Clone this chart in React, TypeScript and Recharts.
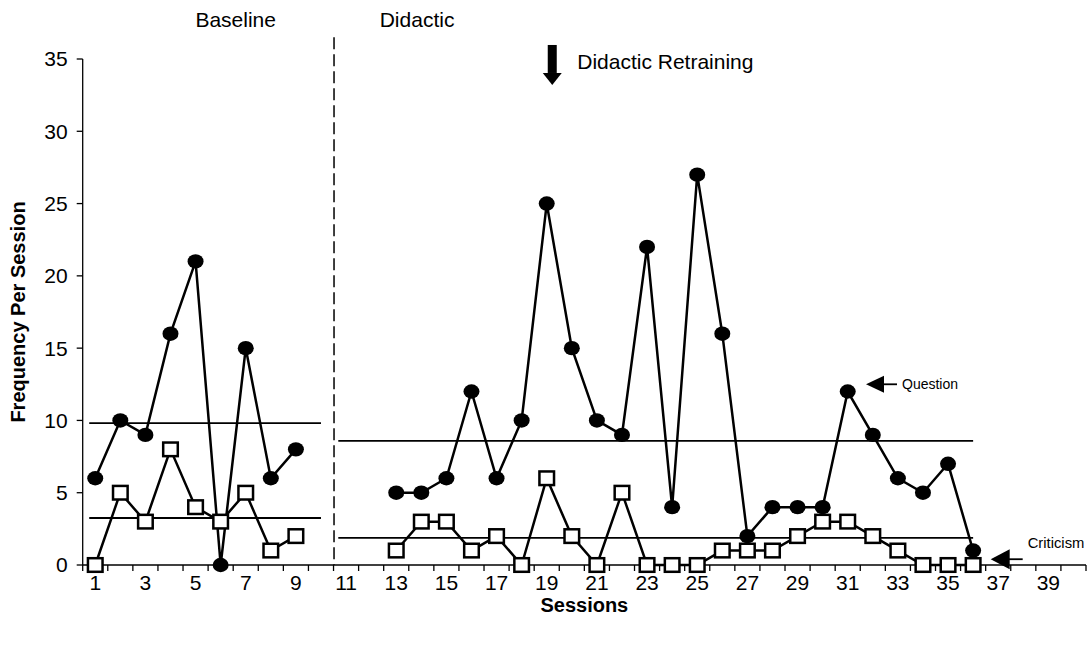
import React from 'react';
import { LineChart, Line, XAxis, YAxis, ReferenceLine, ReferenceDot } from 'recharts';

const sessions = [1, 2, 3, 4, 5, 6, 7, 8, 9, 10, 11, 12, 13, 14, 15, 16, 17, 18, 19, 20, 21, 22, 23, 24, 25, 26, 27, 28, 29, 30, 31, 32, 33, 34, 35, 36];
const questionValues = [6, 10, 9, 16, 21, 0, 15, 6, 8, null, null, null, 5, 5, 6, 12, 6, 10, 25, 15, 10, 9, 22, 4, 27, 16, 2, 4, 4, 4, 12, 9, 6, 5, 7, 1];
const criticismValues = [0, 5, 3, 8, 4, 3, 5, 1, 2, null, null, null, 1, 3, 3, 1, 2, 0, 6, 2, 0, 5, 0, 0, 0, 1, 1, 1, 2, 3, 3, 2, 1, 0, 0, 0];
const xTickLabels = [1, 3, 5, 7, 9, 11, 13, 15, 17, 19, 21, 23, 25, 27, 29, 31, 33, 35, 37, 39];
const yTicks = [0, 5, 10, 15, 20, 25, 30, 35];
const categoryCount = 40;

const meanLines = [
  { from: 0.76, to: 10.0, value: 9.82 },
  { from: 0.76, to: 10.0, value: 3.25 },
  { from: 10.69, to: 36.0, value: 8.58 },
  { from: 10.69, to: 36.0, value: 1.87 },
];
const phaseChangeSession = 10.52;
const phaseLabels = [
  { text: 'Baseline', session: 6.6, level: 37.7 },
  { text: 'Didactic', session: 13.83, level: 37.7 },
];
const retrainingSession = 19.22;
const retrainingLabel = 'Didactic Retraining';
const questionLabel = { text: 'Question', session: 31.73, level: 12.5 };
const criticismLabel = { text: 'Criticism', session: 36.7, level: 0.4 };

const data = sessions.map((s, i) => ({ session: s, question: questionValues[i], criticism: criticismValues[i] }));
const boundaryTicks = Array.from({ length: categoryCount + 1 }, (_, i) => i + 0.5);
const allXTicks = [...boundaryTicks, ...xTickLabels];

const FONT = '"Liberation Sans", Arial, sans-serif';

const XTick = (props: any) => {
  const { x, y, payload } = props;
  const v = payload.value;
  if (v % 1 !== 0) {
    return <line x1={x} x2={x} y1={y} y2={y + 6} stroke="#000" strokeWidth={1.3} />;
  }
  return (
    <text x={x} y={y + 25} textAnchor="middle" fontSize={21} fontFamily={FONT} fill="#000">
      {v}
    </text>
  );
};

const CircleDot = (p: any) => {
  if (p.cx == null || p.cy == null || p.value == null) return <g key={p.key} />;
  return <ellipse key={p.key} cx={p.cx} cy={p.cy} rx={8} ry={7.2} fill="#000" />;
};

const SquareDot = (p: any) => {
  if (p.cx == null || p.cy == null || p.value == null) return <g key={p.key} />;
  return <rect key={p.key} x={p.cx - 7.3} y={p.cy - 6.8} width={14.6} height={13.6} fill="#fff" stroke="#000" strokeWidth={2.5} />;
};

export default function App() {
  return (
    <div style={{ position: 'absolute', left: 0, top: 0, background: '#fff' }}>
      <LineChart width={1091} height={646} data={data} margin={{ top: 59, right: 5, bottom: 0, left: 0 }}>
        <XAxis
          type="number"
          dataKey="session"
          domain={[0.5, 40.5]}
          ticks={allXTicks}
          interval={0}
          tickLine={false}
          tickSize={0}
          tickMargin={0}
          tick={<XTick />}
          axisLine={{ stroke: '#000', strokeWidth: 1.3 }}
          height={81}
          label={{
            content: (props: any) => {
              const vb = props.viewBox;
              return (
                <text x={vb.x + vb.width / 2} y={vb.y + 47} textAnchor="middle" fontSize={20} fontWeight="bold" fontFamily={FONT} fill="#000">
                  Sessions
                </text>
              );
            },
          }}
        />
        <YAxis
          type="number"
          domain={[0, 35]}
          ticks={yTicks}
          interval={0}
          width={82.7}
          tickSize={6}
          tickMargin={9}
          tickLine={{ stroke: '#000', strokeWidth: 1.3 }}
          axisLine={{ stroke: '#000', strokeWidth: 1.3 }}
          tick={{ fontSize: 21, fontFamily: FONT, fill: '#000' }}
          label={{
            content: (props: any) => {
              const vb = props.viewBox;
              const cx = 25;
              const cy = vb.y + vb.height / 2;
              return (
                <text x={cx} y={cy} textAnchor="middle" transform={`rotate(-90 ${cx} ${cy})`} fontSize={20} fontWeight="bold" fontFamily={FONT} fill="#000">
                  Frequency Per Session
                </text>
              );
            },
          }}
        />
        {meanLines.map((m, i) => (
          <ReferenceLine
            key={`m${i}`}
            segment={[{ x: m.from, y: m.value }, { x: m.to, y: m.value }]}
            stroke="#000"
            strokeWidth={1.8}
            ifOverflow="visible"
          />
        ))}
        <ReferenceLine
          segment={[{ x: phaseChangeSession, y: 36.5 }, { x: phaseChangeSession, y: 0 }]}
          stroke="#000"
          strokeWidth={1.5}
          strokeDasharray="12 5"
          ifOverflow="visible"
        />
        <Line dataKey="criticism" stroke="none" dot={<SquareDot />} isAnimationActive={false} connectNulls={false} />
        <Line dataKey="question" stroke="none" dot={<CircleDot />} isAnimationActive={false} connectNulls={false} />
        <Line dataKey="question" stroke="#000" strokeWidth={2.5} dot={false} isAnimationActive={false} connectNulls={false} />
        <Line dataKey="criticism" stroke="#000" strokeWidth={2.5} dot={false} isAnimationActive={false} connectNulls={false} />
        {phaseLabels.map((p, i) => (
          <ReferenceDot
            key={`p${i}`}
            x={p.session}
            y={p.level}
            ifOverflow="visible"
            shape={(s: any) => (
              <text x={s.cx} y={s.cy} textAnchor="middle" dominantBaseline="central" fontSize={21} fontFamily={FONT} fill="#000">
                {p.text}
              </text>
            )}
          />
        ))}
        <ReferenceDot
          x={retrainingSession}
          y={35.97}
          ifOverflow="visible"
          shape={(s: any) => (
            <g>
              <rect x={s.cx - 4.5} y={s.cy} width={9} height={28} fill="#000" />
              <polygon points={`${s.cx - 9.5},${s.cy + 28} ${s.cx + 9.5},${s.cy + 28} ${s.cx},${s.cy + 40}`} fill="#000" />
              <text x={s.cx + 25} y={s.cy + 17} dominantBaseline="central" fontSize={21} fontFamily={FONT} fill="#000">
                {retrainingLabel}
              </text>
            </g>
          )}
        />
        <ReferenceDot
          x={questionLabel.session}
          y={questionLabel.level}
          ifOverflow="visible"
          shape={(s: any) => (
            <g>
              <polygon points={`${s.cx},${s.cy} ${s.cx + 18},${s.cy - 8.5} ${s.cx + 18},${s.cy + 8.5}`} fill="#000" />
              <line x1={s.cx + 17} x2={s.cx + 31} y1={s.cy} y2={s.cy} stroke="#000" strokeWidth={1.8} />
              <text x={s.cx + 36} y={s.cy} dominantBaseline="central" fontSize={14} fontFamily={FONT} fill="#000">
                {questionLabel.text}
              </text>
            </g>
          )}
        />
        <ReferenceDot
          x={criticismLabel.session}
          y={criticismLabel.level}
          ifOverflow="visible"
          shape={(s: any) => (
            <g>
              <polygon points={`${s.cx},${s.cy} ${s.cx + 19},${s.cy - 10} ${s.cx + 19},${s.cy + 10}`} fill="#000" />
              <line x1={s.cx + 18} x2={s.cx + 32} y1={s.cy} y2={s.cy} stroke="#000" strokeWidth={1.8} />
              <text x={s.cx + 37} y={s.cy - 16} dominantBaseline="central" fontSize={14.8} fontFamily={FONT} fill="#000">
                {criticismLabel.text}
              </text>
            </g>
          )}
        />
      </LineChart>
    </div>
  );
}
